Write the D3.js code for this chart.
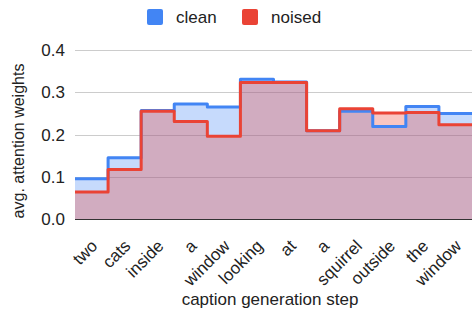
<!DOCTYPE html>
<html>
<head>
<meta charset="utf-8">
<script src="https://cdn.jsdelivr.net/npm/d3@7"></script>
<style>
  body { margin: 0; background: #fff; }
  text { font-family: Arial, "Liberation Sans", sans-serif; fill: #222; }
</style>
</head>
<body>
<svg id="chart"></svg>
<script>
const w = 472,
h = 314,
p = { left: 75, right: 472, top: 50, bottom: 219 },
blue = "#4285F4",
red = "#EA4335";

// caption words (x axis)
const steps = ["two", "cats", "inside", "a", "window", "looking", "at", "a", "squirrel", "outside", "the", "window"];
const clean = [0.095, 0.145, 0.257, 0.272, 0.265, 0.331, 0.324, 0.209, 0.255, 0.219, 0.266, 0.250];
const noised = [0.064, 0.117, 0.255, 0.231, 0.196, 0.323, 0.323, 0.209, 0.261, 0.251, 0.252, 0.223];
const yTicks = [0, 0.1, 0.2, 0.3, 0.4];
const series = [
    { name: "clean", values: clean, color: blue },
    { name: "noised", values: noised, color: red }
];

const svg = d3.select("#chart")
    .attr("width", w)
    .attr("height", h)
    .attr("viewBox", [0, 0, w, h]);

const x = d3.scaleBand()
    .domain(d3.range(steps.length))
    .range([p.left, p.right])
    .padding(0);

const y = d3.scaleLinear()
    .domain([0, 0.4])
    .range([p.bottom, p.top]);

// gridlines + y labels
svg.append("g")
    .selectAll("line")
    .data(yTicks)
    .join("line")
    .attr("x1", p.left)
    .attr("x2", w)
    .attr("y1", d => Math.round(y(d)) + 0.5)
    .attr("y2", d => Math.round(y(d)) + 0.5)
    .attr("stroke", d => d === 0 ? "#333" : "#ccc")
    .attr("stroke-width", 1);

svg.append("g")
    .selectAll("text")
    .data(yTicks)
    .join("text")
    .attr("x", 65)
    .attr("y", d => y(d) + 6)
    .attr("text-anchor", "end")
    .style("font-size", "17px")
    .text(d3.format(".1f"));

// step points: each value starts at its band and the last one runs to the end
const stepPoints = vals => vals.map((v, i) => [x(i), v])
    .concat([[x(vals.length - 1) + x.bandwidth(), vals[vals.length - 1]]]);

const area = d3.area()
    .x(d => d[0])
    .y0(y(0))
    .y1(d => y(d[1]))
    .curve(d3.curveStepAfter);

const line = d3.line()
    .x(d => d[0])
    .y(d => y(d[1]))
    .curve(d3.curveStepAfter);

series.forEach(s => {
    svg.append("path")
        .attr("d", area(stepPoints(s.values)))
        .attr("fill", s.color)
        .attr("fill-opacity", 0.3);
});

series.forEach(s => {
    svg.append("path")
        .attr("d", line(stepPoints(s.values)))
        .attr("fill", "none")
        .attr("stroke", s.color)
        .attr("stroke-width", 3)
        .attr("stroke-linejoin", "round");
});

// slanted category labels
svg.append("g")
    .selectAll("text")
    .data(steps)
    .join("text")
    .attr("transform", (d, i) => `translate(${x(i) + x.bandwidth() / 2 + 7}, 247) rotate(-45)`)
    .attr("text-anchor", "end")
    .style("font-size", "17px")
    .text(d => d);

// axis titles
svg.append("text")
    .attr("x", 270)
    .attr("y", 305)
    .attr("text-anchor", "middle")
    .style("font-size", "17px")
    .text("caption generation step");

svg.append("text")
    .attr("transform", "translate(24, 141) rotate(-90)")
    .attr("text-anchor", "middle")
    .style("font-size", "16px")
    .text("avg. attention weights");

// legend
const legend = svg.append("g")
    .selectAll("g")
    .data(series)
    .join("g")
    .attr("transform", (d, i) => `translate(${[147, 242][i]}, 9)`);

legend.append("rect")
    .attr("width", 16)
    .attr("height", 16)
    .attr("rx", 2)
    .attr("fill", d => d.color);

legend.append("text")
    .attr("x", 29)
    .attr("y", 14)
    .style("font-size", "17px")
    .text(d => d.name);
</script>
</body>
</html>
